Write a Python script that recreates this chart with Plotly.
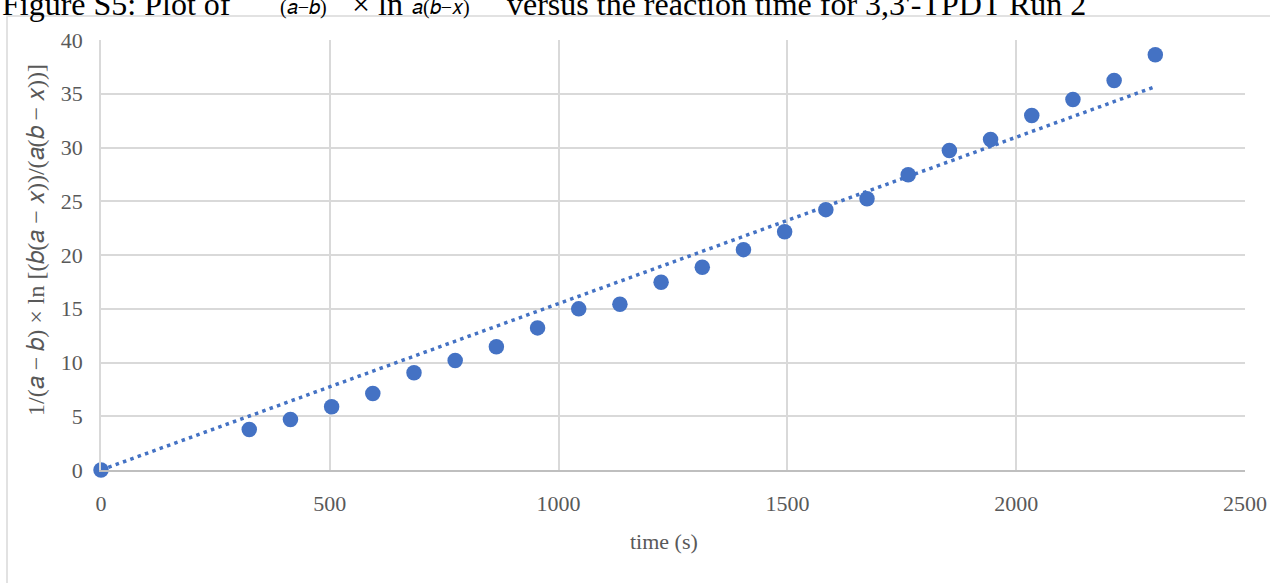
import numpy as np
import plotly.graph_objects as go

# ---- data ----
time_s = [0, 324, 414, 504, 594, 684, 774, 864, 954, 1044, 1134, 1224,
          1314, 1404, 1494, 1584, 1674, 1764, 1854, 1944, 2034, 2124, 2214, 2304]
y_vals = [0.0, 3.77, 4.70, 5.88, 7.12, 9.04, 10.19, 11.46, 13.22, 14.99, 15.42, 17.46,
          18.86, 20.50, 22.17, 24.22, 25.24, 27.47, 29.73, 30.75, 32.98, 34.47, 36.24, 38.62]
x_ticks = [0, 500, 1000, 1500, 2000, 2500]
y_ticks = [0, 5, 10, 15, 20, 25, 30, 35, 40]

title_left = "Figure S5: Plot of"
title_math1 = "(𝑎−𝑏)"
title_math2 = "× ln"
title_math3 = "𝑎(𝑏−𝑥)"
title_right = "versus the reaction time for 3,3'-TPDT Run 2"
x_title = "time (s)"
y_title = "1/(𝑎 − 𝑏) × ln\u2061 [(𝑏(𝑎 − 𝑥))/(𝑎(𝑏 − 𝑥))]"

# ---- layout geometry ----
W, H = 1270, 583
L, R, T, B = 101, 25, 40, 113
PW, PH = W - L - R, H - T - B


def px(x):
    return (x - L) / PW


def py(y):
    return (H - B - y) / PH


# trendline: linear least squares through the origin
xa = np.array(time_s, dtype=float)
ya = np.array(y_vals, dtype=float)
slope = float((xa * ya).sum() / (xa * xa).sum())
trend_x = [0, max(time_s)]
trend_y = [slope * v for v in trend_x]

BLUE = "#4472C4"
GRAY = "#595959"
FONT = "Liberation Serif"

fig = go.Figure()
fig.add_trace(go.Scatter(x=trend_x, y=trend_y, mode="lines",
                         line=dict(color=BLUE, width=3.5, dash="3.5px,4.3px"),
                         hoverinfo="skip", showlegend=False))
fig.add_trace(go.Scatter(x=time_s, y=y_vals, mode="markers",
                         marker=dict(color=BLUE, size=15.5, line=dict(width=0)),
                         showlegend=False, cliponaxis=False))

fig.update_layout(
    width=W, height=H,
    margin=dict(l=L, r=R, t=T, b=B, pad=0, autoexpand=False),
    paper_bgcolor="white", plot_bgcolor="white",
    font=dict(family=FONT, color=GRAY, size=22),
    showlegend=False,
    xaxis=dict(range=[0, 2500], tickvals=x_ticks, ticktext=[str(v) for v in x_ticks],
               showgrid=True, gridcolor="#d9d9d9", gridwidth=1.5,
               showline=True, linecolor="#bfbfbf", linewidth=1.5,
               zeroline=False, ticks="", ticklabelstandoff=13, automargin=False,
               tickfont=dict(family=FONT, size=22, color=GRAY)),
    yaxis=dict(range=[0, 40], tickvals=y_ticks, ticktext=[str(v) for v in y_ticks],
               showgrid=True, gridcolor="#d9d9d9", gridwidth=1.5,
               showline=True, linecolor="#d9d9d9", linewidth=1.5,
               zeroline=False, ticks="", ticklabelstandoff=12, automargin=False,
               tickfont=dict(family=FONT, size=22, color=GRAY)),
)

# outer chart frame (extends beyond the window)
fig.add_shape(type="rect", xref="paper", yref="paper",
              x0=px(7), x1=px(1290), y0=py(600), y1=py(16),
              line=dict(color="#d9d9d9", width=1.5), layer="below")

# axis titles
fig.add_annotation(text=x_title, xref="paper", yref="paper",
                   x=px(664), y=py(541), xanchor="center", yanchor="middle",
                   showarrow=False, font=dict(family=FONT, size=22, color=GRAY))
fig.add_annotation(text=y_title, xref="paper", yref="paper",
                   x=px(36), y=py(240), xanchor="center", yanchor="middle",
                   textangle=-90, showarrow=False,
                   font=dict(family=FONT, size=24, color=GRAY))

# page title (cut off at the top of the window)
TS = 32
fig.add_annotation(text=title_left, xref="paper", yref="paper",
                   x=px(0), y=py(24), xanchor="left", yanchor="bottom",
                   showarrow=False, font=dict(family=FONT, size=TS, color="black"))
fig.add_annotation(text=title_math1, xref="paper", yref="paper",
                   x=px(278), y=py(21), xanchor="left", yanchor="bottom",
                   showarrow=False, font=dict(family=FONT, size=20, color="black"))
fig.add_annotation(text=title_math2, xref="paper", yref="paper",
                   x=px(350), y=py(24), xanchor="left", yanchor="bottom",
                   showarrow=False, font=dict(family=FONT, size=TS, color="black"))
fig.add_annotation(text=title_math3, xref="paper", yref="paper",
                   x=px(410), y=py(21), xanchor="left", yanchor="bottom",
                   showarrow=False, font=dict(family=FONT, size=20, color="black"))
fig.add_annotation(text=title_right, xref="paper", yref="paper",
                   x=px(505), y=py(24), xanchor="left", yanchor="bottom",
                   showarrow=False, font=dict(family=FONT, size=TS, color="black"))

fig.write_html("out.html")
